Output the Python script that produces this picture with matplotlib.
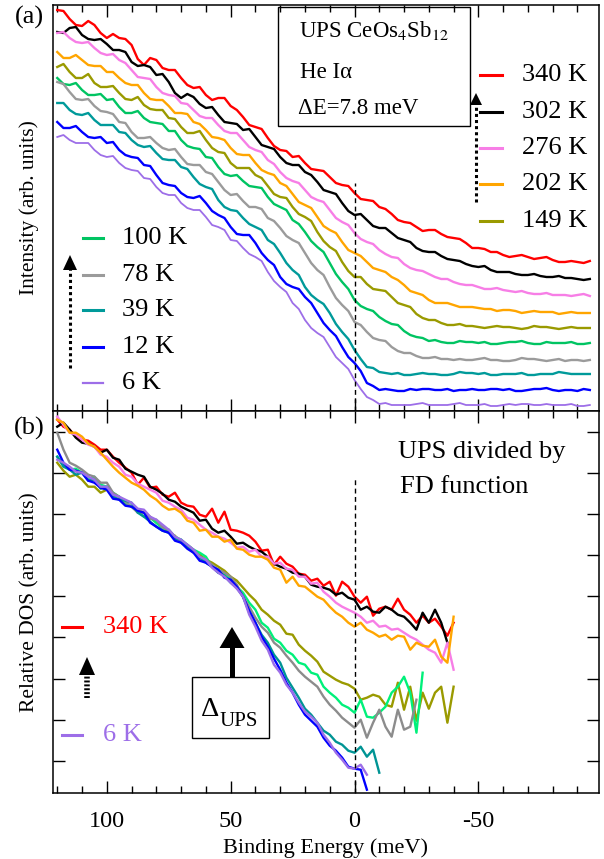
import numpy as np
import matplotlib.pyplot as plt
from matplotlib.lines import Line2D
from matplotlib.patches import Polygon, Rectangle
from matplotlib.transforms import Affine2D

plt.rcParams['font.family'] = ['Liberation Serif', 'DejaVu Serif']
plt.rcParams['mathtext.fontset'] = 'stix'
plt.rcParams['axes.unicode_minus'] = False

# ---------------- panel (a): raw UPS spectra, offset (arb. units) ----------------
# energy sampling, 120 meV down to -95 meV in 2.5 meV steps
e_a = np.arange(120, -97.5, -2.5)

ups_340 = [401, 400, 392, 386, 385, 390, 386, 378, 373, 377, 373, 372, 366, 352, 346, 353, 351, 343,
           341, 341, 333, 326, 323, 324, 316, 311, 313, 313, 305, 301, 294, 286, 284, 282, 273, 265,
           261, 260, 254, 255, 248, 242, 241, 240, 234, 228, 226, 225, 218, 212, 211, 210, 204, 202,
           197, 191, 189, 188, 184, 180, 181, 181, 177, 174, 173, 172, 168, 163, 163, 162, 159, 159,
           156, 154, 155, 156, 154, 152, 153, 154, 151, 149, 149, 150, 149, 148, 150]
ups_302 = [379, 378, 383, 384, 376, 372, 371, 372, 367, 361, 361, 359, 349, 345, 346, 344, 336, 337,
           329, 318, 313, 317, 314, 307, 303, 304, 296, 289, 288, 287, 281, 282, 274, 266, 264, 262,
           254, 248, 246, 246, 239, 236, 229, 221, 219, 217, 208, 200, 196, 197, 191, 185, 183, 183,
           178, 173, 171, 169, 163, 160, 159, 159, 155, 152, 151, 150, 147, 145, 144, 145, 141, 139,
           139, 139, 137, 136, 136, 137, 135, 134, 134, 135, 133, 133, 132, 131, 132]
ups_276 = [378, 379, 373, 369, 368, 369, 363, 358, 356, 357, 351, 348, 341, 334, 333, 332, 324, 318,
           316, 315, 308, 307, 301, 295, 293, 293, 286, 280, 278, 278, 271, 264, 261, 259, 251, 247,
           239, 233, 230, 228, 221, 214, 211, 209, 201, 193, 189, 186, 178, 172, 169, 167, 161, 157,
           154, 153, 147, 143, 141, 140, 137, 134, 132, 132, 129, 127, 126, 126, 124, 122, 122, 123,
           121, 120, 119, 120, 118, 117, 117, 118, 116, 116, 116, 115, 116, 117, 115]
ups_202 = [359, 353, 353, 356, 351, 346, 345, 345, 339, 339, 333, 328, 326, 326, 318, 312, 311, 311,
           305, 298, 298, 297, 289, 287, 281, 274, 273, 271, 263, 257, 256, 256, 248, 241, 238, 236,
           228, 225, 217, 209, 206, 203, 194, 185, 181, 178, 169, 161, 158, 155, 149, 143, 141, 139,
           134, 131, 126, 120, 118, 116, 111, 108, 108, 108, 106, 104, 104, 104, 103, 102, 102, 100,
           101, 101, 100, 98, 99, 100, 99, 99, 99, 97, 98, 99, 98, 98, 98]
ups_149 = [344, 347, 339, 333, 333, 337, 328, 324, 324, 325, 318, 312, 311, 314, 306, 302, 301, 301,
           293, 292, 284, 278, 278, 280, 271, 263, 259, 258, 248, 243, 243, 243, 236, 233, 225, 217,
           214, 213, 204, 197, 194, 190, 179, 170, 164, 160, 149, 140, 134, 134, 127, 122, 121, 120,
           114, 108, 106, 104, 97, 93, 91, 91, 88, 86, 86, 87, 85, 85, 84, 83, 84, 85,
           84, 84, 83, 82, 83, 85, 84, 84, 83, 82, 83, 84, 83, 83, 83]
ups_100 = [333, 327, 326, 328, 321, 316, 316, 317, 311, 312, 304, 298, 298, 300, 293, 289, 288, 287,
           280, 280, 271, 265, 263, 262, 254, 253, 244, 237, 235, 236, 230, 225, 224, 223, 214, 207,
           204, 201, 191, 187, 179, 170, 164, 159, 148, 137, 129, 122, 111, 105, 102, 100, 94, 90,
           87, 86, 80, 76, 74, 73, 70, 71, 69, 68, 68, 70, 69, 69, 68, 69, 67, 67,
           68, 69, 69, 70, 68, 67, 67, 69, 68, 68, 68, 69, 67, 67, 68]
ups_78 = [329, 327, 319, 312, 311, 312, 305, 300, 299, 297, 289, 288, 279, 273, 273, 274, 268, 263,
          261, 262, 254, 247, 246, 246, 239, 237, 229, 221, 216, 217, 210, 204, 204, 202, 193, 190,
          183, 175, 171, 168, 158, 148, 141, 136, 124, 113, 106, 100, 89, 86, 79, 73, 71, 70,
          64, 60, 58, 58, 55, 53, 53, 54, 52, 52, 51, 52, 51, 51, 52, 53, 51, 51,
          50, 50, 51, 53, 52, 52, 51, 50, 51, 52, 50, 51, 51, 50, 51]
ups_39 = [308, 308, 301, 297, 296, 298, 291, 286, 286, 286, 279, 278, 271, 266, 264, 265, 258, 252,
          251, 251, 244, 242, 234, 227, 224, 222, 211, 204, 201, 200, 193, 187, 184, 181, 171, 167,
          158, 148, 141, 136, 124, 116, 111, 107, 98, 87, 79, 72, 61, 52, 44, 43, 39, 38,
          37, 38, 36, 36, 37, 38, 37, 37, 36, 36, 37, 39, 38, 38, 37, 38, 36, 36,
          37, 37, 37, 38, 36, 36, 37, 37, 37, 39, 38, 37, 37, 37, 37]
ups_12 = [289, 283, 283, 285, 279, 274, 273, 274, 268, 269, 261, 256, 254, 253, 246, 245, 236, 228,
          226, 225, 218, 214, 213, 215, 208, 200, 196, 193, 184, 177, 176, 176, 168, 158, 151, 146,
          134, 127, 124, 122, 114, 108, 98, 88, 81, 75, 64, 54, 48, 40, 28, 25, 21, 22,
          21, 20, 20, 22, 21, 22, 22, 21, 21, 22, 20, 21, 21, 22, 21, 21, 22, 22,
          21, 22, 20, 20, 21, 22, 22, 23, 21, 20, 21, 21, 20, 22, 21]
ups_6 = [274, 276, 271, 268, 268, 268, 261, 256, 254, 255, 248, 243, 241, 240, 233, 232, 224, 218,
         216, 216, 208, 203, 201, 201, 194, 186, 184, 181, 171, 170, 163, 157, 154, 150, 139, 130,
         124, 119, 108, 102, 91, 83, 78, 74, 64, 54, 48, 42, 31, 22, 14, 11, 7, 8,
         6, 6, 6, 6, 7, 8, 6, 6, 6, 6, 7, 8, 6, 6, 6, 7, 5, 5,
         6, 7, 6, 7, 7, 6, 6, 7, 6, 6, 6, 7, 5, 5, 6]

temps_a = ['340 K', '302 K', '276 K', '202 K', '149 K', '100 K', '78 K', '39 K', '12 K', '6 K']
colors_a = ['#ff0000', '#000000', '#f77ee6', '#ffa500', '#9a9a00', '#00c462', '#9b9b9b',
            '#009a9a', '#0000ff', '#9d6ee8']
series_a = [ups_340, ups_302, ups_276, ups_202, ups_149, ups_100, ups_78, ups_39, ups_12, ups_6]

# ---------------- panel (b): UPS divided by Fermi-Dirac (arb. units) ----------------
# energy sampling, 120 meV down to -40 meV in 2.5 meV steps; each curve stops where it ends
e_b = np.arange(120, -42.5, -2.5)

dos_340 = [373, 366, 363, 356, 353, 352, 348, 343, 343, 336, 330, 325, 320, 308, 315, 305, 306, 298,
           296, 300, 290, 287, 286, 278, 276, 284, 270, 281, 263, 262, 260, 257, 251, 242, 243, 228,
           236, 229, 226, 219, 218, 212, 214, 207, 211, 197, 211, 206, 196, 190, 196, 177, 184, 186,
           183, 194, 183, 178, 170, 177, 170, 174, 166, 157, 170]
dos_302 = [366, 370, 363, 355, 350, 349, 346, 340, 343, 335, 333, 324, 321, 318, 316, 306, 303, 299,
           293, 291, 286, 283, 280, 272, 273, 264, 260, 262, 256, 249, 250, 246, 243, 241, 236, 229,
           226, 224, 220, 219, 216, 208, 206, 205, 203, 198, 200, 195, 193, 183, 186, 181, 180, 186,
           183, 178, 176, 170, 163, 180, 170, 183, 170, 150]
dos_276 = [376, 368, 360, 358, 353, 348, 346, 338, 336, 330, 326, 318, 316, 309, 306, 303, 300, 292,
           290, 286, 283, 275, 273, 268, 263, 260, 256, 254, 250, 245, 246, 241, 243, 236, 236, 229,
           230, 224, 223, 216, 216, 209, 210, 201, 196, 190, 186, 183, 180, 176, 170, 172, 166, 167,
           163, 164, 160, 156, 153, 148, 143, 140, 130, 150, 123]
dos_202 = [373, 370, 360, 360, 356, 349, 346, 340, 333, 326, 320, 315, 310, 307, 303, 297, 293, 287,
           283, 284, 280, 272, 270, 262, 263, 256, 256, 251, 253, 244, 243, 238, 236, 236, 233, 225,
           223, 210, 216, 207, 206, 201, 196, 193, 186, 180, 176, 170, 166, 170, 163, 160, 156, 158,
           153, 157, 156, 143, 150, 147, 146, 153, 136, 130, 176]
dos_149 = [330, 322, 316, 318, 313, 306, 306, 300, 303, 297, 296, 289, 286, 283, 280, 276, 270, 266,
           260, 257, 250, 246, 240, 238, 233, 230, 226, 222, 216, 212, 205, 198, 192, 183, 178, 172,
           168, 159, 158, 148, 142, 137, 131, 121, 117, 113, 110, 108, 104, 93, 95, 98, 96, 88,
           86, 110, 83, 106, 72, 100, 84, 100, 106, 70, 106]
dos_100 = [336, 328, 323, 324, 320, 313, 316, 308, 306, 300, 296, 290, 286, 281, 276, 275, 270, 264,
           263, 256, 253, 248, 243, 240, 236, 226, 220, 219, 213, 206, 200, 190, 183, 170, 165, 154,
           150, 142, 138, 130, 128, 120, 118, 106, 100, 95, 88, 85, 80, 93, 76, 75, 80, 86,
           100, 106, 116, 100, 60, 120]
dos_78 = [360, 343, 330, 327, 323, 318, 316, 310, 310, 300, 296, 291, 286, 280, 280, 274, 273, 265,
          263, 256, 250, 248, 243, 235, 233, 228, 223, 220, 216, 208, 196, 186, 175, 166, 160, 150,
          145, 137, 130, 122, 116, 111, 106, 96, 88, 82, 75, 70, 65, 73, 55, 70, 83, 66,
          56, 83, 63, 66, 93]
dos_39 = [336, 326, 323, 318, 320, 312, 313, 304, 306, 296, 293, 292, 290, 280, 276, 271, 266, 262,
          260, 254, 253, 245, 243, 235, 230, 226, 220, 217, 210, 205, 196, 180, 170, 158, 150, 138,
          130, 115, 105, 95, 84, 78, 70, 62, 58, 51, 48, 42, 40, 46, 36, 43, 20]
dos_12 = [343, 330, 323, 322, 320, 312, 310, 305, 303, 294, 293, 287, 286, 282, 280, 270, 266, 262,
          260, 252, 250, 244, 240, 232, 230, 226, 223, 215, 213, 206, 196, 182, 170, 156, 146, 134,
          123, 110, 100, 88, 78, 72, 66, 55, 47, 42, 35, 26, 24, 23, 3]
dos_6 = [333, 330, 326, 321, 320, 316, 313, 306, 306, 298, 296, 293, 290, 284, 283, 276, 273, 268,
         263, 256, 253, 248, 243, 236, 233, 225, 220, 216, 210, 204, 196, 178, 166, 152, 143, 128,
         120, 108, 100, 90, 81, 76, 70, 58, 50, 40, 33, 25, 24, 28, 18]

colors_b = ['#ff0000', '#000000', '#f77ee6', '#ffa500', '#9a9a00', '#00f07a', '#8c8c8c',
            '#009494', '#0000ff', '#9d6ee8']
series_b = [dos_340, dos_302, dos_276, dos_202, dos_149, dos_100, dos_78, dos_39, dos_12, dos_6]

# ---------------- figure ----------------
W, H = 604, 859
fig = plt.figure(figsize=(W / 100, H / 100), dpi=100)
# pixel coordinates (origin top-left) for the decorations
px = Affine2D().scale(1.0 / W, -1.0 / H).translate(0, 1) + fig.transFigure

x0, x1 = 53.3, 598.5
ax_a = fig.add_axes([x0 / W, 1 - 411 / H, (x1 - x0) / W, 406 / H])
ax_b = fig.add_axes([x0 / W, 1 - 792.7 / H, (x1 - x0) / W, 381.7 / H])

for vals, c in zip(series_a, colors_a):
    lw = 1.3 if c == '#9d6ee8' else 1.7
    ax_a.plot(e_a, vals, color=c, lw=lw)
for vals, c in zip(series_b, colors_b):
    ax_b.plot(e_b[:len(vals)], vals, color=c, lw=1.7)

ax_a.vlines(0, 0, 228, colors='k', linestyles=(0, (3.5, 2.5)), lw=1)
ax_b.vlines(0, 0, 315, colors='k', linestyles=(0, (3.5, 2.5)), lw=1)

for ax in (ax_a, ax_b):
    ax.set_xlim(121.6, -98.5)
    ax.set_xticks([100, 50, 0, -50])
    ax.set_xticks(np.arange(120, -100, -10), minor=True)
    ax.tick_params(axis='x', which='both', direction='in', top=True, bottom=True)
    ax.tick_params(which='major', length=8.5, width=1)
    ax.tick_params(which='minor', length=5, width=1)
    for s in ax.spines.values():
        s.set_linewidth(1.1)

ax_a.set_ylim(0, 406)
ax_a.set_yticks([])
ax_a.tick_params(labelbottom=False)
ax_a.set_ylabel('Intensity (arb. units)', fontsize=15.5, labelpad=10)

ax_b.set_ylim(0, 381.7)
ax_b.set_yticks(32 + 41.1 * np.arange(9))
ax_b.tick_params(axis='y', direction='in', left=True, right=True, labelleft=False,
                 length=8.5, width=1)
ax_b.tick_params(axis='x', labelsize=17.5, pad=13.5)
ax_b.set_xlabel('Binding Energy (meV)', fontsize=16, labelpad=4)
ax_b.set_ylabel('Relative DOS (arb. units)', fontsize=15.5, labelpad=10)


def txt(x, y, s, **kw):
    kw.setdefault('fontsize', 19)
    kw.setdefault('va', 'center')
    fig.text(x, y, s, transform=px, **kw)


def key(xa, xb, y, c, lw=2.2):
    fig.add_artist(Line2D([xa, xb], [y, y], color=c, lw=lw, transform=px))


def head(x, ytip, h, w):
    fig.add_artist(Polygon([[x - w / 2, ytip + h], [x + w / 2, ytip + h], [x, ytip]],
                           closed=True, color='k', transform=px, lw=0))


def dotted(x, ya, yb, lw=2.2, dash=(0, (1, 1))):
    fig.add_artist(Line2D([x, x], [ya, yb], color='k', lw=lw, ls=dash, transform=px))


# panel labels
txt(29, 17, '(a)', ha='center')
txt(29, 428, '(b)', ha='center')

# info box
fig.add_artist(Rectangle((278, 7), 192, 119, fill=False, ec='k', lw=1, transform=px))
txt(299, 31, 'UPS CeOs$_4$Sb$_{12}$', fontsize=16.5)
txt(300, 72, 'He I\u03b1', fontsize=16.5)
txt(298, 108, '\u0394E=7.8 meV', fontsize=16.5)

# legend (a), right column
for lab, c, y in zip(temps_a[:5], colors_a[:5], [75, 112, 148, 184, 221]):
    key(480, 502, y, c)
    txt(522, y, lab)
# legend (a), left column
for lab, c, y in zip(temps_a[5:], colors_a[5:], [238, 275, 310, 347, 383]):
    key(83, 103, y, c, lw=1.6 if c == '#9d6ee8' else 2.2)
    txt(122, y, lab)

# dotted arrows in (a)
dotted(476, 202, 102)
head(476, 93, 12, 12)
dotted(70, 368, 268)
head(70, 255, 15, 14)

# panel (b) texts
txt(398, 452, 'UPS divided by')
txt(400, 487, 'FD function')
key(62, 82, 627, '#ff0000')
txt(103, 627, '340 K', color='#ff0000')
key(62, 82, 735, '#9d6ee8')
txt(103, 735, '6 K', color='#9d6ee8')
dotted(87, 698, 675, lw=4, dash=(0, (0.35, 0.35)))
head(87, 657, 18, 16)

# Delta_UPS arrow and box
fig.add_artist(Line2D([232, 232], [674, 640], color='k', lw=3.6, transform=px))
head(232, 627, 21, 25)
fig.add_artist(Rectangle((192, 677), 77, 61, fill=False, ec='k', lw=1, transform=px))
txt(210, 710, '\u0394', fontsize=20.5, ha='center')
txt(220, 721, 'UPS', fontsize=15)

fig.savefig('out.png', dpi=100)
